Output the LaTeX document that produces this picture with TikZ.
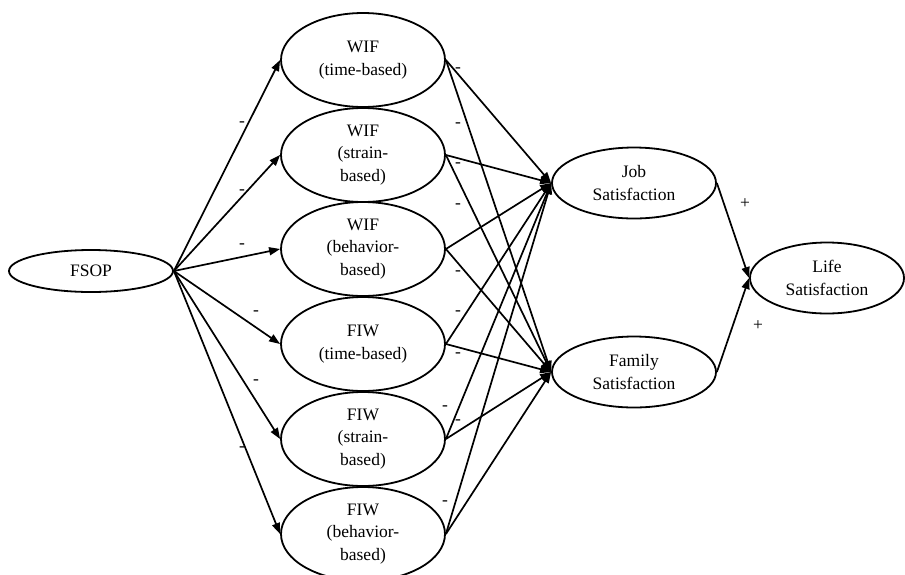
\documentclass[tikz,border=0pt]{standalone}
\usepackage{fontspec}
\setmainfont{Liberation Serif}
\usetikzlibrary{shapes.geometric,arrows.meta}
\begin{document}
\begin{tikzpicture}[x=1pt,y=-1pt,
  every node/.style={font=\fontsize{17.5}{22.5}\selectfont},
  var/.style={draw,ellipse,line width=1.8pt,inner sep=0pt,align=center},
  mid/.style={var,minimum width=164pt,minimum height=94pt},
  sat/.style={var,minimum width=164pt,minimum height=71pt},
  conn/.style={line width=1.7pt,-{Triangle[length=11pt,width=8pt]}},
  sign/.style={inner sep=0pt}]
\useasboundingbox (0,0) rectangle (905,574);
\fill[white] (0,0) rectangle (905,574);
\node[var,minimum width=164pt,minimum height=42pt] (fsop) at (91,271) {FSOP};
\node[mid] (m1) at (363,60) {WIF\\(time-based)};
\node[mid] (m2) at (363,155) {WIF\\(strain-\\based)};
\node[mid] (m3) at (363,249) {WIF\\(behavior-\\based)};
\node[mid] (m4) at (363,344) {FIW\\(time-based)};
\node[mid] (m5) at (363,439) {FIW\\(strain-\\based)};
\node[mid] (m6) at (363,534) {FIW\\(behavior-\\based)};
\node[sat] (job) at (634,183) {Job\\Satisfaction};
\node[sat] (fam) at (634,372) {Family\\Satisfaction};
\node[var,minimum width=154pt,minimum height=71pt] (life) at (827,278) {Life\\Satisfaction};
\foreach \i in {1,...,6} {
  \draw[conn] (fsop.east) -- (m\i.west);
  \draw[conn] (m\i.east) -- (job.west);
  \draw[conn] (m\i.east) -- (fam.west);
}
\draw[conn] (job.east) -- (life.west);
\draw[conn] (fam.east) -- (life.west);
% signs FSOP paths
\node[sign] (s1) at (242,124) {-};
\node[sign] (s2) at (242,192) {-};
\node[sign] (s3) at (242,246) {-};
\node[sign] (s4) at (256,313) {-};
\node[sign] (s5) at (256,382) {-};
\node[sign] (s6) at (242,449) {-};
% signs to outcomes
\node[sign] (t1) at (458,70) {-};
\node[sign] (t2) at (458,125) {-};
\node[sign] (t3) at (458,165) {-};
\node[sign] (t4) at (458,206) {-};
\node[sign] (t5) at (458,273) {-};
\node[sign] (t6) at (458,313) {-};
\node[sign] (t7) at (458,355) {-};
\node[sign] (t8) at (445,408) {-};
\node[sign] (t9) at (458,422) {-};
\node[sign] (t10) at (445,503) {-};
\node[sign] (p1) at (745,204) {+};
\node[sign] (p2) at (758,326) {+};
\end{tikzpicture}
\end{document}
